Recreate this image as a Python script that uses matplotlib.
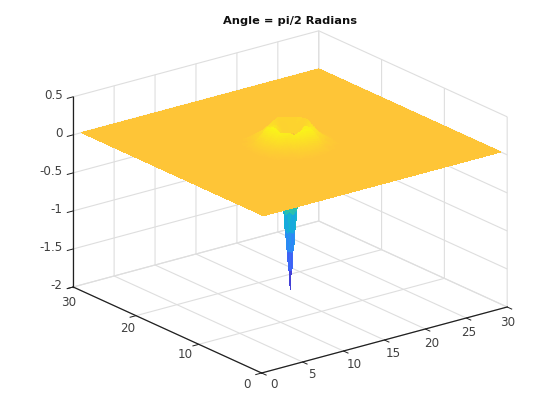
import numpy as np
import matplotlib
matplotlib.use("Agg")
import matplotlib.pyplot as plt
from matplotlib.colors import LinearSegmentedColormap, Normalize
from matplotlib.transforms import Affine2D
from mpl_toolkits.mplot3d import proj3d

# ---- data ----
title = "Angle = pi/2 Radians"
grid_x = list(range(1, 31))
grid_y = list(range(1, 31))
x_ticks = [0, 5, 10, 15, 20, 25, 30]
y_ticks = [0, 10, 20, 30]
z_ticks = [-2, -1.5, -1, -0.5, 0, 0.5]
z_tick_labels = ["-2", "-1.5", "-1", "-0.5", "0", "0.5"]
# heights around the centre of the sheet (x = 10..20 across, y = 10..20 down); elsewhere 0
window_x = list(range(10, 21))
window_y = list(range(10, 21))
window_z = [
    [0, 0, 0, .001, .002, .002, .002, .001, 0, 0, 0],
    [0, 0, .002, .005, .01, .012, .01, .005, .002, 0, 0],
    [0, .002, .008, .02, .07, .10, .08, .02, .008, .002, 0],
    [.001, .005, .03, .09, .22, .27, .25, .10, .03, .005, .001],
    [.002, .01, .08, .25, .22, .10, .25, .20, .09, .01, .002],
    [.002, .012, .11, .28, .10, -1.9, .10, .28, .11, .012, .002],
    [.002, .01, .08, .24, .25, .10, .10, .26, .07, .01, .002],
    [.001, .005, .03, .10, .20, .28, .26, .22, .03, .005, .001],
    [0, .002, .008, .06, .11, .15, .10, .03, .008, .002, 0],
    [0, 0, .002, .005, .01, .012, .01, .005, .002, 0, 0],
    [0, 0, 0, .001, .002, .002, .002, .001, 0, 0, 0],
]
# colour values of the same cells (the far rim of the crater is paler than its height)
window_c = [
    [0, 0, 0, .001, .002, .002, .002, .001, 0, 0, 0],
    [0, 0, .002, .005, .01, .012, .01, .005, .002, 0, 0],
    [0, .002, .008, .02, .07, .10, .08, .02, .008, .002, 0],
    [.001, .005, .03, .09, .22, .27, .25, .10, .03, .005, .001],
    [.002, .01, .08, .25, .22, .10, .25, .20, .09, .01, .002],
    [.002, .012, .11, .28, .10, -1.9, .07, .08, .11, .012, .002],
    [.002, .01, .08, .24, .15, .07, .08, .09, .07, .01, .002],
    [.001, .005, .03, .10, .16, .08, .08, .08, .03, .005, .001],
    [0, .002, .008, .06, .11, .15, .10, .03, .008, .002, 0],
    [0, 0, .002, .005, .01, .012, .01, .005, .002, 0, 0],
    [0, 0, 0, .001, .002, .002, .002, .001, 0, 0, 0],
]
color_low, color_high = -1.9, 0.31

# ---- style ----
plt.rcParams["axes.unicode_minus"] = False
plt.rcParams["font.family"] = "DejaVu Sans"
parula = LinearSegmentedColormap.from_list("parula", [
    (.2422, .1504, .6603), (.2810, .3228, .9579), (.1786, .5289, .9682),
    (.0689, .6948, .8394), (.2161, .7843, .5923), (.6720, .7793, .2227),
    (.9970, .7659, .2199), (.9769, .9839, .0805)], N=256)
TEXT = "#404040"
GRID = "#dedede"
DARK = "#202020"
SUB = 8  # facets per cell, to imitate smooth (interpolated) shading
# small pixel nudges of the tick labels (right, up), one per tick
x_label_nudge = [(6, 4), (3, 3), (5, 2), (3, 2), (0, 1), (-3, 1), (-5, 0)]
y_label_nudge = [(-7, 3), (-6, 4), (-1, 2), (3, -1)]
z_label_nudge = [(3, 7)] * 6


def full_table(window):
    table = np.zeros((len(grid_y), len(grid_x)))
    for row, yv in zip(window, window_y):
        for val, xv in zip(row, window_x):
            table[grid_y.index(yv), grid_x.index(xv)] = val
    return table


def refine(table, depth):
    """Gouraud-like shading: fill each cell from its two triangles, split through its lowest corner."""
    ny, nx = table.shape
    out = np.zeros(((ny - 1) * SUB + 1, (nx - 1) * SUB + 1))
    u = np.arange(SUB + 1) / SUB
    U, V = np.meshgrid(u, u)
    for j in range(ny - 1):
        for i in range(nx - 1):
            a, b, c, d = table[j, i], table[j, i + 1], table[j + 1, i], table[j + 1, i + 1]
            low = np.argmin([depth[j, i], depth[j, i + 1], depth[j + 1, i], depth[j + 1, i + 1]])
            if low in (0, 3):
                v = np.where(U >= V, a + (b - a) * U + (d - b) * V, a + (c - a) * V + (d - c) * U)
            else:
                v = np.where(U + V <= 1, a + (b - a) * U + (c - a) * V,
                             d + (c - d) * (1 - U) + (b - d) * (1 - V))
            out[j * SUB:(j + 1) * SUB + 1, i * SUB:(i + 1) * SUB + 1] = v
    return out


base = full_table(window_z)
Z = refine(base, base)
C = refine(full_table(window_c), base)
X, Y = np.meshgrid(np.linspace(grid_x[0], grid_x[-1], Z.shape[1]),
                   np.linspace(grid_y[0], grid_y[-1], Z.shape[0]))
cell_c = (C[:-1, :-1] + C[1:, :-1] + C[:-1, 1:] + C[1:, 1:]) / 4
face_colors = parula(Normalize(color_low, color_high)(cell_c))

fig = plt.figure(figsize=(5.6, 4.2), dpi=100)
ax = fig.add_axes([0.1, 0.1, 0.8, 0.8], projection="3d")
ax.set_proj_type("ortho")
ax.view_init(elev=20.5, azim=-127.5)
ax.set_box_aspect((1, 1, 0.656))
ax.plot_surface(X, Y, Z, facecolors=face_colors, rstride=1, cstride=1,
                shade=False, linewidth=0, antialiased=False)
ax.set_xlim(0, 30)
ax.set_ylim(0, 30)
ax.set_zlim(-2, 0.5)
ax.set_xticks(x_ticks)
ax.set_yticks(y_ticks)
ax.set_zticks(z_ticks)
ax.set_zticklabels(z_tick_labels, ha="right")
ax.set_xticklabels([str(v) for v in x_ticks])
ax.set_yticklabels([str(v) for v in y_ticks])
ax.zaxis.set_ticks_position("upper")
for axis in (ax.xaxis, ax.yaxis, ax.zaxis):
    axis.set_pane_color((1, 1, 1, 0))
    axis.pane.set_edgecolor(GRID)
    axis.line.set_color(DARK)
    axis.line.set_linewidth(0.9)
    info = axis._axinfo
    info["grid"].update(color=GRID, linewidth=0.8, linestyle="-")
    info["tick"].update(inward_factor=0.3, outward_factor=0.0, linewidth={True: 0.7, False: 0.5})
    info["tick"]["color"] = DARK
ax.tick_params(axis="both", labelsize=8.6, labelcolor=TEXT, pad=-2.5)
for axis in (ax.xaxis, ax.yaxis, ax.zaxis):
    for t in axis.get_ticklines():
        t.set_color(DARK)

fig.suptitle(title, x=290 / 560, y=1 - 21 / 420, va="center", fontsize=8.2, fontweight="bold", color="#101010")

# place the box on the same pixels as the reference
origin_target = np.array([262.0, 420 - 373.0])
right_target = np.array([507.0, 420 - 307.0])
left_target = np.array([73.0, 420 - 287.0])


def corner(x, y, z):
    px, py, _ = proj3d.proj_transform(x, y, z, ax.get_proj())
    return ax.transData.transform((px, py))


for _ in range(4):
    fig.canvas.draw()
    o, r, l = corner(0, 0, -2), corner(30, 0, -2), corner(0, 30, -2)
    scale = (right_target[0] - left_target[0]) / (r[0] - l[0])
    pos = ax.get_position()
    w = pos.width * scale
    h = pos.height * scale
    cx_now = (pos.x0 + pos.x1) / 2 * 560
    cy_now = (pos.y0 + pos.y1) / 2 * 420
    center_data = (o + r + l) / 3
    center_target = (origin_target + right_target + left_target) / 3
    nx = (center_target[0] - (center_data[0] - cx_now) * scale) / 560
    ny = (center_target[1] - (center_data[1] - cy_now) * scale) / 420
    ax.set_position([nx - w / 2, ny - h / 2, w, h])

# Axis3D resets tick transforms whenever it fetches its ticks, so keep the nudged one in place
for axis, nudges in ((ax.xaxis, x_label_nudge), (ax.yaxis, y_label_nudge), (ax.zaxis, z_label_nudge)):
    for tick, (dx, dy) in zip(axis.get_major_ticks(), nudges):
        tick.label1.set_transform(ax.transData + Affine2D().translate(dx, dy))
        tick.label1.set_transform = lambda _t: None

fig.savefig("out.png", dpi=100)
